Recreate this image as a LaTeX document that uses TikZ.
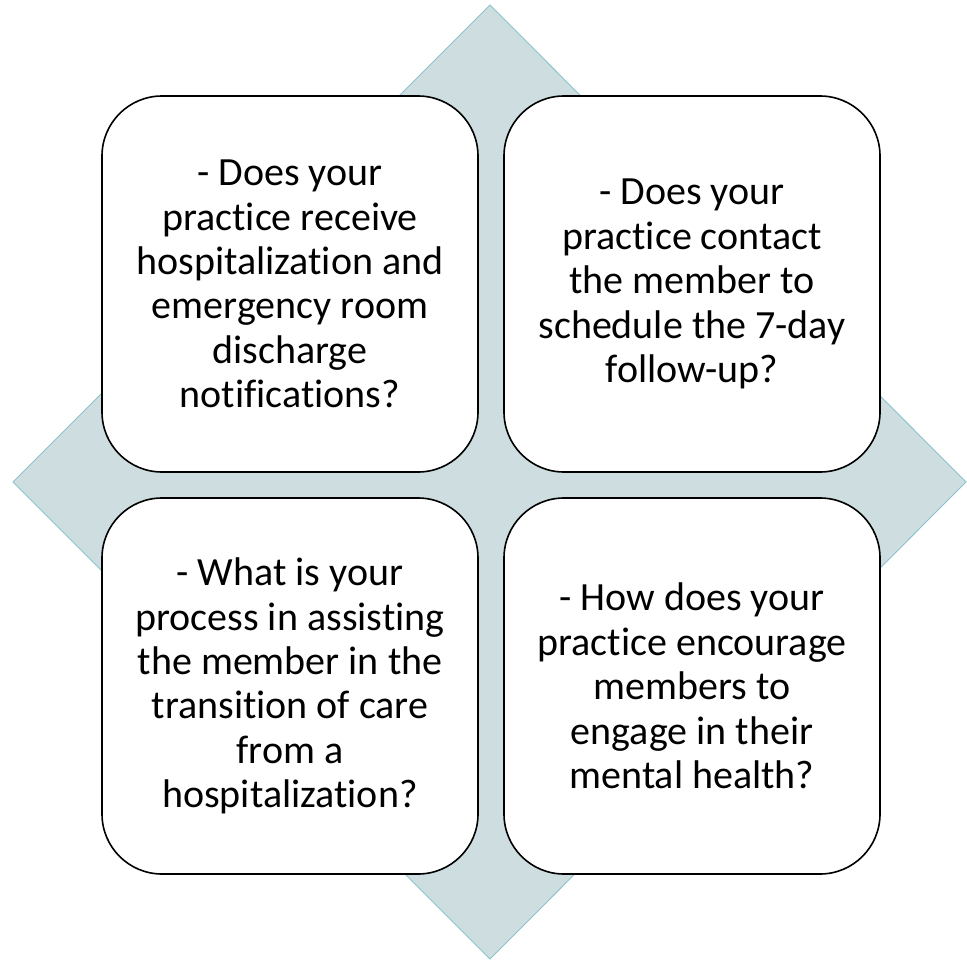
\documentclass[tikz,border=0pt]{standalone}
\usepackage{fontspec}
\setmainfont[Ligatures={NoCommon}]{Carlito}
\usepackage{tikz}
\usepackage{xcolor}
\definecolor{diamondfill}{HTML}{CDDDE0}
\definecolor{diamondline}{HTML}{8CC3CB}

\begin{document}
\begin{tikzpicture}[x=1pt,y=-1pt,node distance=402pt,
    base/.style={rectangle,rounded corners=60pt,draw=black,line width=1.6pt,fill=white,
        minimum width=376pt,minimum height=376pt,align=center,
        font=\fontsize{40}{44.4}\selectfont}]

    \useasboundingbox (0,0) rectangle (967,961);

    % background diamond
    \draw[diamondline,fill=diamondfill,line width=0.9pt]
        (490,5) -- (966,482) -- (490,959) -- (13,482) -- cycle;

    \node[base] (1) at (290,284)
    {
        - Does your\\
        practice receive\\
        hospitalization and\\
        emergency room\\
        discharge\\
        notifications?
    };
    \node[base, right of=1] (2)
    {
        - Does your\\
        practice contact\\
        the member to\\
        schedule the 7-day\\
        follow-up?
    };
    \node[base, below of=1] (3)
    {
        - What is your\\
        process in assisting\\
        the member in the\\
        transition of care\\
        from a\\
        hospitalization?
    };
    \node[base, right of=3] (4)
    {
        - How does your\\
        practice encourage\\
        members to\\
        engage in their\\
        mental health?
    };
\end{tikzpicture}
\end{document}
